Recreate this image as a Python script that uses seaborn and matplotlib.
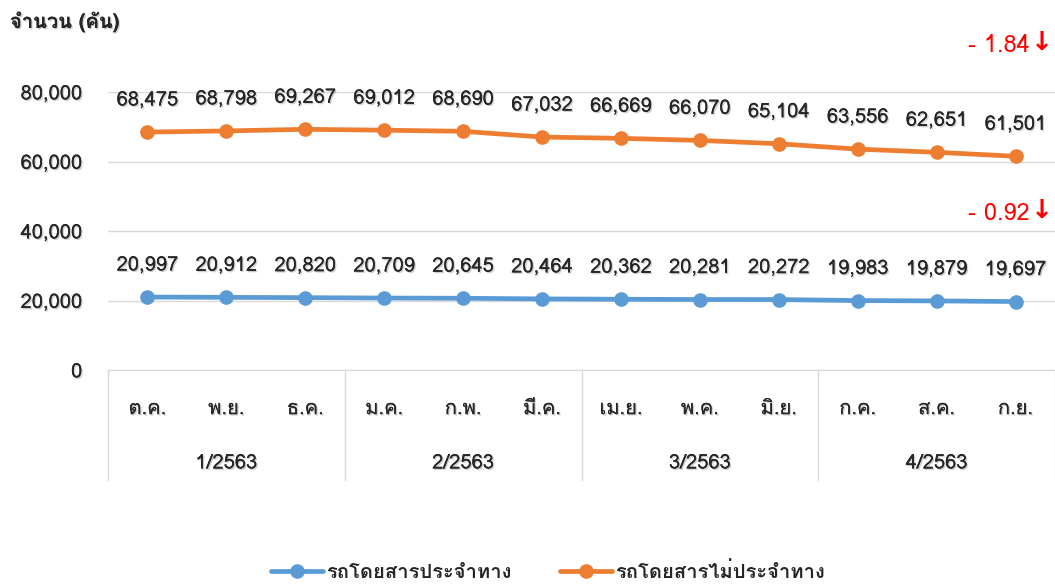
import matplotlib
matplotlib.use("Agg")
import matplotlib.pyplot as plt
import matplotlib.transforms as mtransforms
import matplotlib.patheffects as pe
from matplotlib.lines import Line2D
import numpy as np
import pandas as pd
import seaborn as sns

# ---- data ----
months = ["ต.ค.", "พ.ย.", "ธ.ค.", "ม.ค.", "ก.พ.", "มี.ค.",
          "เม.ย.", "พ.ค.", "มิ.ย.", "ก.ค.", "ส.ค.", "ก.ย."]
quarters = ["1/2563", "2/2563", "3/2563", "4/2563"]
series_names = ["รถโดยสารประจำทาง", "รถโดยสารไม่ประจำทาง"]
scheduled = [20997, 20912, 20820, 20709, 20645, 20464,
             20362, 20281, 20272, 19983, 19879, 19697]
non_scheduled = [68475, 68798, 69267, 69012, 68690, 67032,
                 66669, 66070, 65104, 63556, 62651, 61501]
changes = ["- 0.92", "- 1.84"]
y_ticks = [0, 20000, 40000, 60000, 80000]
y_label = "จำนวน (คัน)"

colors = ["#5B9BD5", "#ED7D31"]

sns.set_style("white")
plt.rcParams["font.family"] = ["Loma", "DejaVu Sans"]

df = pd.DataFrame({
    "idx": list(range(len(months))) * 2,
    "value": scheduled + non_scheduled,
    "series": [series_names[0]] * len(months) + [series_names[1]] * len(months),
})

fig = plt.figure(figsize=(10.55, 5.86), dpi=100)
ax = fig.add_axes([108 / 1055, 1 - 370 / 586, 1 - 108 / 1055, (370 - 92) / 586])

shadow = [pe.withSimplePatchShadow(offset=(1, -1), shadow_rgbFace="#888888", alpha=0.4), pe.Normal()]
FS = 14.5

sns.lineplot(data=df, x="idx", y="value", hue="series", palette=colors,
             hue_order=series_names, marker="o", markersize=10.5,
             markeredgewidth=0, linewidth=3.4, ax=ax, legend=False)

ax.set_xlim(-0.5, len(months) - 0.5)
ax.set_ylim(0, 80000)
ax.set_yticks(y_ticks)
ax.set_yticklabels([f"{v:,}" for v in y_ticks], fontsize=FS)
for t in ax.get_yticklabels():
    t.set_path_effects(shadow)
ax.yaxis.grid(True, color="#D9D9D9", linewidth=1)
ax.set_axisbelow(True)
for s in ["left", "right", "top"]:
    ax.spines[s].set_visible(False)
ax.spines["bottom"].set_color("#D9D9D9")
ax.tick_params(axis="y", length=0, pad=18.5)
ax.set_xticks(range(len(months)))
ax.set_xticklabels(months, fontsize=FS)
for t in ax.get_xticklabels():
    t.set_path_effects(shadow)
ax.tick_params(axis="x", length=0, pad=21)
ax.set_xlabel("")
ax.set_ylabel("")

# data labels
for vals in [scheduled, non_scheduled]:
    for i, v in enumerate(vals):
        ax.annotate(f"{v:,}", (i, v), xytext=(0, 23), textcoords="offset points",
                    ha="center", va="center", fontsize=FS, path_effects=shadow)

# change annotations (red)
for ch, ypix in zip(changes, [213, 45]):
    fig.text(1030 / 1055, 1 - ypix / 586, ch, color="#FF0000",
             fontsize=17, ha="right", va="center")
    fig.text(1031 / 1055, 1 - (ypix - 2) / 586, "↓", color="#FF0000",
             fontsize=19, ha="left", va="center", fontweight="bold",
             family="DejaVu Sans")

# group separators and quarter labels
trans = mtransforms.blended_transform_factory(ax.transData, ax.transAxes)
bottom_frac = -(480 - 370) / (370 - 92)
for k in range(len(quarters) + 1):
    xpos = k * 3 - 0.5
    ax.add_line(Line2D([xpos, xpos], [0, bottom_frac], transform=trans,
                       color="#D9D9D9", linewidth=1, clip_on=False))
for k, q in enumerate(quarters):
    ax.text(k * 3 + 1, -(463 - 370) / (370 - 92), q, transform=trans,
            ha="center", va="center", fontsize=FS, path_effects=shadow)

# y label
fig.text(10 / 1055, 1 - 22 / 586, y_label, fontsize=FS, fontweight="bold",
         ha="left", va="center", path_effects=shadow)

# legend
handles = [Line2D([0], [0], color=c, linewidth=3.4, marker="o", markersize=10.5,
                  markeredgewidth=0) for c in colors]
leg = fig.legend(handles, series_names, loc="center", bbox_to_anchor=(548 / 1055, 1 - 572 / 586),
                 ncol=2, frameon=False, fontsize=FS, handlelength=2.6,
                 columnspacing=2.4, handletextpad=0.15)
for t in leg.get_texts():
    t.set_fontweight("bold")

fig.savefig("out.png", dpi=100)
